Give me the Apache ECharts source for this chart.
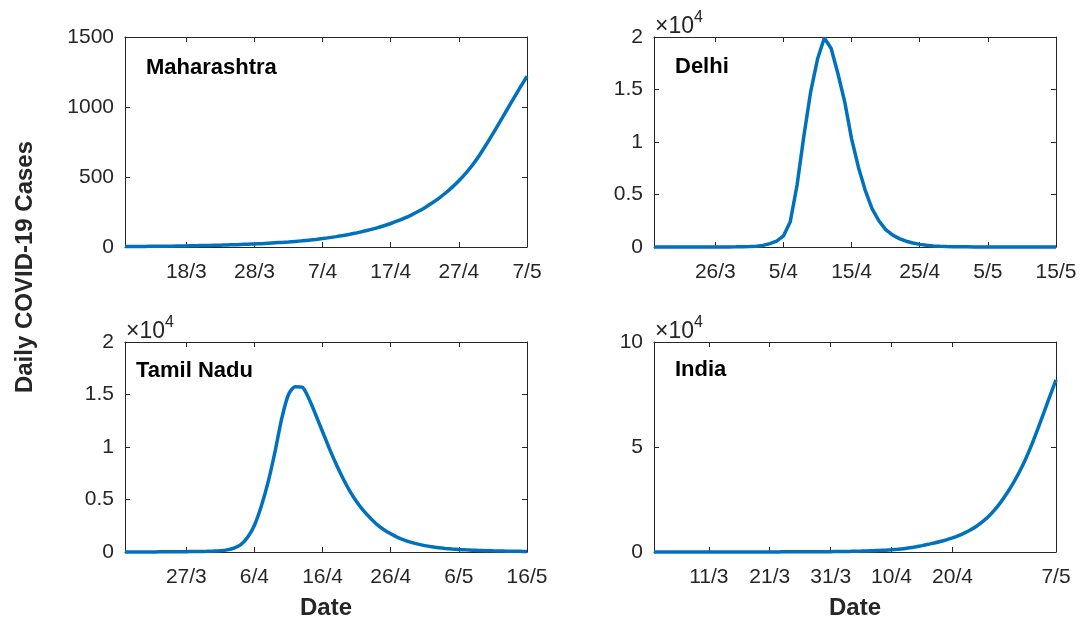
<!DOCTYPE html>
<html>
<head>
<meta charset="utf-8">
<title>Daily COVID-19 Cases</title>
<script src="https://cdn.jsdelivr.net/npm/echarts@6.0.0/dist/echarts.min.js"></script>
<style>
  html, body { margin: 0; padding: 0; background: #fff; }
  #chart { width: 1080px; height: 624px; }
</style>
</head>
<body>
<div id="chart"></div>
<script>
// daily cases, one value per day from the first day on each x axis
const mhCases = [3, 3, 4, 4, 5, 5, 6, 6, 7, 8,
  9, 10, 11, 12, 13, 15, 16, 18, 20, 22,
  24, 27, 30, 33, 36, 40, 44, 49, 54, 60,
  67, 74, 82, 91, 101, 112, 124, 137, 152, 168,
  186, 206, 228, 253, 281, 312, 346, 384, 426, 473,
  526, 586, 654, 730, 810, 892, 975, 1058, 1140, 1220]
const dlCases = [1, 1, 2, 2, 2, 3, 3, 4, 5, 6,
  8, 10, 15, 25, 45, 80, 150, 320, 560, 1050,
  2400, 5900, 10600, 14800, 17900, 19900, 18900, 16500, 13800, 10300,
  7600, 5400, 3650, 2500, 1650, 1150, 800, 550, 380, 250,
  160, 100, 65, 45, 30, 20, 15, 10, 8, 6,
  5, 4, 3, 3, 2, 2, 2, 1, 1, 1]
const tnCases = [5, 6, 7, 8, 10, 12, 15, 20, 26, 35,
  40, 50, 65, 85, 120, 200, 370, 700, 1400, 2550,
  4350, 6650, 9500, 12700, 15000, 15750, 15700, 14600, 13050, 11450,
  9850, 8350, 7000, 5800, 4780, 3930, 3230, 2600, 2120, 1730,
  1400, 1140, 920, 750, 610, 500, 410, 340, 285, 240,
  205, 175, 150, 128, 110, 95, 82, 72, 63, 55]
const inCases = [5, 6, 7, 8, 9, 10, 11, 12, 14, 15,
  17, 19, 21, 24, 27, 30, 34, 38, 43, 49,
  55, 62, 70, 79, 89, 100, 115, 130, 150, 175,
  200, 240, 290, 350, 420, 500, 600, 720, 860, 1060,
  1300, 1600, 2000, 2500, 3050, 3650, 4300, 5000, 5800, 6700,
  7800, 9100, 10600, 12400, 14600, 17200, 20300, 24000, 28200, 32900,
  38200, 44200, 51000, 58500, 66300, 74200, 82000]

// tick positions (day index) and their date labels
const mhTicks = [9, 19, 29, 39, 49, 59]
const mhLabels = ['18/3', '28/3', '7/4', '17/4', '27/4', '7/5']
const dlTicks = [9, 19, 29, 39, 49, 59]
const dlLabels = ['26/3', '5/4', '15/4', '25/4', '5/5', '15/5']
const tnTicks = [9, 19, 29, 39, 49, 59]
const tnLabels = ['27/3', '6/4', '16/4', '26/4', '6/5', '16/5']
const inTicks = [9, 19, 29, 39, 49, 66]
const inLabels = ['11/3', '21/3', '31/3', '10/4', '20/4', '7/5']

const font = 'Liberation Sans, Arial, Helvetica, sans-serif'
const axisColor = '#262626'
const lineColor = '#0072BD'

const panels = [
  {name: 'Maharashtra', cases: mhCases, ticks: mhTicks, labels: mhLabels, xMax: 59,
    yMax: 1500, yStep: 500, scale: 1, left: 125, top: 37, nameX: 146, nameY: 68, xName: '', smooth: 0.3},
  {name: 'Delhi', cases: dlCases, ticks: dlTicks, labels: dlLabels, xMax: 59,
    yMax: 20000, yStep: 5000, scale: 10000, left: 654, top: 37, nameX: 675, nameY: 67, xName: '', smooth: false},
  {name: 'Tamil Nadu', cases: tnCases, ticks: tnTicks, labels: tnLabels, xMax: 59,
    yMax: 20000, yStep: 5000, scale: 10000, left: 125, top: 342, nameX: 136, nameY: 371, xName: 'Date', smooth: 0.25},
  {name: 'India', cases: inCases, ticks: inTicks, labels: inLabels, xMax: 66,
    yMax: 100000, yStep: 50000, scale: 10000, left: 654, top: 342, nameX: 675, nameY: 370, xName: 'Date', smooth: 0.3}
]

const plotW = 402
const plotH = 210

let grid = []
let xAxis = []
let yAxis = []
let series = []
let graphic = []

panels.forEach(function (p, i) {
  grid.push({left: p.left, top: p.top, width: plotW, height: plotH})

  let labelFor = function (v) {
    let k = p.ticks.indexOf(v)
    return k >= 0 ? p.labels[k] : ''
  }
  // bottom axis with dates, top axis only for the box ticks
  xAxis.push({
    type: 'value', gridIndex: i, position: 'bottom', min: 0, max: p.xMax,
    axisLine: {onZero: false, lineStyle: {color: axisColor, width: 1}},
    axisTick: {inside: true, length: 5, customValues: p.ticks, lineStyle: {color: axisColor}},
    axisLabel: {customValues: p.ticks, formatter: labelFor, margin: 15,
      color: axisColor, fontSize: 21, fontFamily: font},
    splitLine: {show: false},
    name: p.xName, nameLocation: 'middle', nameGap: 44,
    nameTextStyle: {fontFamily: font, fontSize: 24, fontWeight: 'bold', color: axisColor}
  })
  xAxis.push({
    type: 'value', gridIndex: i, position: 'top', min: 0, max: p.xMax,
    axisLine: {onZero: false, lineStyle: {color: axisColor, width: 1}},
    axisTick: {inside: true, length: 5, customValues: p.ticks, lineStyle: {color: axisColor}},
    axisLabel: {show: false},
    splitLine: {show: false}
  })
  yAxis.push({
    type: 'value', gridIndex: i, position: 'left', min: 0, max: p.yMax, interval: p.yStep,
    axisLine: {show: true, onZero: false, lineStyle: {color: axisColor, width: 1}},
    axisTick: {show: true, inside: true, length: 5, lineStyle: {color: axisColor}},
    axisLabel: {margin: 11, color: axisColor, fontSize: 21, fontFamily: font,
      formatter: function (v) { return String(v / p.scale) }},
    splitLine: {show: false}
  })
  yAxis.push({
    type: 'value', gridIndex: i, position: 'right', min: 0, max: p.yMax, interval: p.yStep,
    axisLine: {show: true, onZero: false, lineStyle: {color: axisColor, width: 1}},
    axisTick: {show: true, inside: true, length: 5, lineStyle: {color: axisColor}},
    axisLabel: {show: false},
    splitLine: {show: false}
  })

  series.push({
    type: 'line', xAxisIndex: i * 2, yAxisIndex: i * 2,
    data: p.cases.map(function (v, d) { return [d, v] }),
    showSymbol: false, clip: false, silent: true, smooth: p.smooth,
    lineStyle: {color: lineColor, width: 3.5}
  })

  graphic.push({
    type: 'text', x: p.nameX, y: p.nameY,
    style: {text: p.name, font: 'bold 22px ' + font, fill: '#000', textVerticalAlign: 'middle'}
  })
  if (p.scale !== 1) {
    graphic.push({
      type: 'text', x: p.left + 1, y: p.top + 1,
      style: {
        text: '{a|×10}{b|4}', textVerticalAlign: 'bottom', fill: axisColor,
        rich: {
          a: {fontFamily: font, fontSize: 23, lineHeight: 28, verticalAlign: 'bottom', fill: axisColor},
          b: {fontFamily: font, fontSize: 16, lineHeight: 28, verticalAlign: 'top', fill: axisColor}
        }
      }
    })
  }
})

graphic.push({
  type: 'text', x: 25, y: 267, rotation: Math.PI / 2,
  style: {text: 'Daily COVID-19 Cases', font: 'bold 24px ' + font, fill: axisColor,
    textAlign: 'center', textVerticalAlign: 'middle'}
})

var myChart = echarts.init(document.getElementById('chart'))
myChart.setOption({
  animation: false,
  grid: grid,
  xAxis: xAxis,
  yAxis: yAxis,
  series: series,
  graphic: graphic
})
</script>
</body>
</html>
